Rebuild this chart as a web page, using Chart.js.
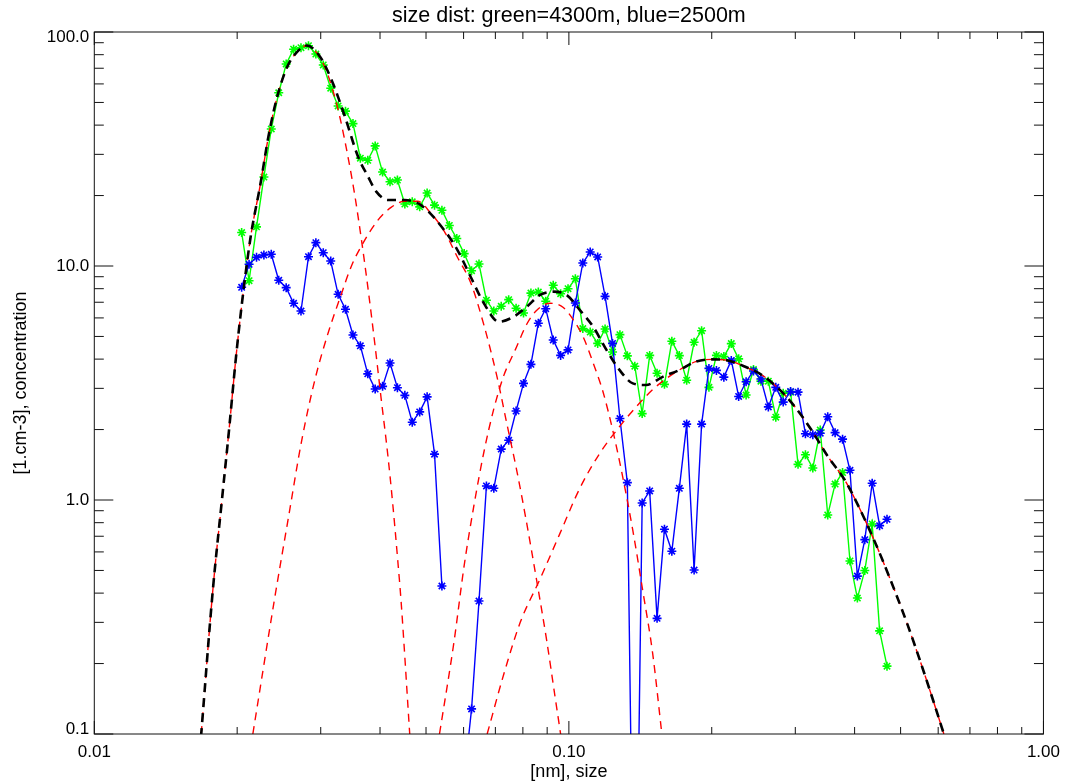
<!DOCTYPE html>
<html><head><meta charset="utf-8">
<script src="https://cdn.jsdelivr.net/npm/chart.js@4"></script>
<style>html,body{margin:0;padding:0;background:#fff}#wrap{width:1068px;height:783px;position:relative}</style>
</head><body><div id="wrap"><canvas id="c"></canvas></div>
<script>
// size grid [nm]
const sizes = [0.02044,0.02119,0.02197,0.02277,0.02360,0.02447,0.02537,0.02630,0.02726,0.02827,
0.02930,0.03037,0.03149,0.03264,0.03383,0.03508,0.03636,0.03769,0.03907,0.04050,
0.04199,0.04352,0.04512,0.04677,0.04849,0.05027,0.05211,0.05401,0.05599,0.05805,
0.06017,0.06237,0.06466,0.06703,0.06948,0.07202,0.07467,0.07740,0.08024,0.08318,
0.08622,0.08938,0.09268,0.09607,0.09959,0.1032,0.1070,0.1109,0.1150,0.1192,
0.1236,0.1281,0.1328,0.1377,0.1427,0.1480,0.1534,0.1590,0.1648,0.1709,
0.1771,0.1836,0.1904,0.1973,0.2046,0.2121,0.2199,0.2279,0.2363,0.2449,
0.2539,0.2632,0.2729,0.2829,0.2932,0.3040,0.3151,0.3266,0.3386,0.3511,
0.3639,0.3773,0.3911,0.4054,0.4203,0.4356,0.4516,0.4681];
// green = 4300 m
const green4300 = [13.9,8.65,14.7,24.0,38.5,55.0,73.0,84.4,85.7,87.4,
80.5,72.3,57.5,48.3,45.9,40.6,28.9,28.3,32.6,25.2,
22.9,23.3,18.4,18.8,17.9,20.5,18.2,17.3,14.9,13.1,
11.3,9.55,10.2,7.14,6.42,6.73,7.18,6.60,6.30,7.66,
7.74,7.07,8.27,7.61,8.00,8.82,5.40,5.22,4.67,5.38,
4.29,5.09,4.13,3.73,2.34,4.15,3.48,3.12,4.77,4.14,
3.25,4.72,5.29,3.03,4.15,4.10,4.66,4.01,2.81,3.61,
3.22,3.22,2.26,2.86,2.89,1.42,1.56,1.37,1.99,0.863,
1.17,1.31,0.549,0.381,0.50,0.790,0.276,0.195];
// blue = 2500 m
const blue2500 = [8.11,10.17,10.89,11.14,11.22,8.69,8.08,6.93,6.42,10.96,
12.58,11.40,10.50,7.57,6.53,5.07,4.56,3.46,2.98,3.06,
3.85,3.02,2.80,2.15,2.38,2.76,1.57,0.429,null,null,
0.065,0.128,0.370,1.148,1.122,1.65,1.80,2.40,3.15,3.80,
5.69,6.57,4.83,4.15,4.38,6.95,10.30,11.48,10.93,7.42,
4.67,2.23,1.186,0.005,0.971,1.093,0.312,0.750,0.604,1.122,
2.11,0.502,2.11,3.65,3.58,3.35,3.95,2.77,3.20,3.56,
3.29,2.50,3.03,2.62,2.91,2.89,1.92,1.90,1.93,2.27,
1.94,1.82,1.34,0.473,0.677,1.18,0.777,0.827];
// fitted modes (red dashed)
const mode1X = [0.01680,0.01775,0.01862,0.01923,0.01986,0.02049,0.02135,0.02240,0.02331,0.02426,0.02546,0.02672,0.02804,0.02920,0.03063,0.03189,0.03294,0.03427,0.03540,0.03654,0.03774,0.03898,0.04023,0.04155,0.04257,0.04360,0.04430,0.04620];
const mode1Y = [0.1,0.40,1.05,2.0,3.97,7.05,13.3,22.5,36.3,52.4,70.5,82,87.5,83,70.5,55.5,43,29,20,13,8.0,4.7,2.7,1.55,0.95,0.55,0.37,0.1];
const mode2X = [0.02158,0.02399,0.02567,0.02736,0.02920,0.03112,0.03294,0.03482,0.03714,0.03960,0.04221,0.04504,0.04802,0.05120,0.05460,0.05824,0.06208,0.06620,0.07059,0.07408,0.07775,0.08155,0.08558,0.08982,0.09348,0.09607];
const mode2Y = [0.1,0.38,0.85,1.8,3.3,5.2,7.3,10.0,12.9,15.7,17.8,18.9,18.9,16.8,14.1,10.9,8.5,5.6,3.35,2.1,1.32,0.79,0.45,0.25,0.145,0.1];
const mode3X = [0.05338,0.05731,0.06013,0.06310,0.06620,0.06947,0.07291,0.07709,0.08155,0.08558,0.09127,0.09734,0.1021,0.1072,0.1125,0.1180,0.1239,0.1300,0.1364,0.1431,0.1502,0.1570];
const mode3Y = [0.1,0.25,0.52,0.95,1.6,2.45,3.4,4.38,5.65,6.47,6.93,6.65,5.9,4.97,3.85,2.9,1.96,1.24,0.74,0.41,0.22,0.1];
const mode4X = [0.06727,0.07291,0.07898,0.08697,0.09577,0.1054,0.1161,0.1279,0.1408,0.1526,0.1707,0.1850,0.2004,0.2172,0.2353,0.2551,0.2763,0.2995,0.3245,0.3516,0.3811,0.3997,0.4402,0.4772,0.5169,0.5512,0.5877,0.6168];
const mode4Y = [0.1,0.18,0.30,0.46,0.72,1.12,1.58,2.06,2.59,3.05,3.59,3.90,3.99,3.94,3.71,3.42,3.00,2.50,1.99,1.53,1.22,1.02,0.67,0.45,0.294,0.202,0.136,0.1];
// total fit (black dashed)
const fitX = [0.01680,0.01775,0.01862,0.01923,0.01986,0.02049,0.02135,0.02240,0.02331,0.02426,0.02546,0.02672,0.02804,0.02990,0.03162,0.03373,0.03596,0.03774,0.03928,0.04155,0.04504,0.04879,0.05460,0.05824,0.06208,0.06620,0.07117,0.07651,0.08155,0.08697,0.09277,0.09890,0.1054,0.1125,0.1200,0.1279,0.1364,0.1454,0.1576,0.1707,0.1850,0.2004,0.2172,0.2353,0.2551,0.2763,0.2995,0.3245,0.3516,0.3811,0.3997,0.4402,0.4772,0.5169,0.5512,0.5877,0.6168];
const fitY = [0.1,0.40,1.05,2.0,3.97,7.05,13.3,22.5,36.3,52.4,70.5,82,87.5,78.4,62.4,43.5,29.3,24.1,20.8,19.15,19.15,18.2,14.25,11.7,9.0,6.93,5.78,6.07,6.70,7.52,7.77,7.52,6.49,5.50,4.38,3.59,3.15,3.10,3.36,3.59,3.90,3.99,3.94,3.71,3.42,3.00,2.50,1.99,1.53,1.22,1.02,0.67,0.45,0.294,0.202,0.136,0.1];
// ticks
const xMajorTicks = [0.01, 0.1, 1];
const xTickLabels = ['0.01', '0.10', '1.00'];
const xMinorTicks = [0.02,0.03,0.04,0.05,0.06,0.07,0.08,0.09,0.2,0.3,0.4,0.5,0.6,0.7,0.8,0.9];
const yMajorTicks = [0.1, 1, 10, 100];
const yTickLabels = ['0.1', '1.0', '10.0', '100.0'];
const yMinorTicks = [0.2,0.3,0.4,0.5,0.6,0.7,0.8,0.9,2,3,4,5,6,7,8,9,20,30,40,50,60,70,80,90];

const pts = (xs, ys) => xs.map((x, i) => ({x: x, y: ys[i]}));
const FONT = "'Liberation Sans', Arial, Helvetica, sans-serif";
Chart.defaults.font.family = FONT;
Chart.defaults.color = '#000';

const insideTicks = {
  id: 'insideTicks',
  afterDatasetsDraw(chart) {
    const {ctx, chartArea: a, scales} = chart;
    const x = scales.x, y = scales.y;
    ctx.save();
    ctx.strokeStyle = '#111';
    ctx.lineWidth = 1;
    ctx.setLineDash([]);
    ctx.beginPath();
    const vx = (vals, len) => vals.forEach(v => {
      const p = x.getPixelForValue(v);
      ctx.moveTo(p, a.bottom); ctx.lineTo(p, a.bottom - len);
      ctx.moveTo(p, a.top); ctx.lineTo(p, a.top + len);
    });
    const hy = (vals, len) => vals.forEach(v => {
      const p = y.getPixelForValue(v);
      ctx.moveTo(a.left, p); ctx.lineTo(a.left + len, p);
      ctx.moveTo(a.right, p); ctx.lineTo(a.right - len, p);
    });
    vx(xMajorTicks, 13); vx(xMinorTicks, 7);
    hy(yMajorTicks, 19); hy(yMinorTicks, 9.5);
    ctx.stroke();
    ctx.strokeRect(a.left, a.top, a.right - a.left, a.bottom - a.top);
    ctx.restore();
  }
};

const redDs = (xs, ys) => ({
  data: pts(xs, ys), borderColor: '#ff0000', borderWidth: 1.4, borderDash: [8, 6],
  pointRadius: 0, cubicInterpolationMode: 'monotone', fill: false
});
const dataDs = (ys, col) => ({
  data: pts(sizes, ys), borderColor: col, backgroundColor: col, borderWidth: 1.4,
  pointStyle: 'star', pointRadius: 4.5, pointBorderWidth: 1.6, pointBorderColor: col,
  spanGaps: false, tension: 0, fill: false
});

new Chart(document.getElementById('c'), {
  type: 'line',
  data: {
    datasets: [
      {data: pts(fitX, fitY), borderColor: '#000', borderWidth: 2.6, borderDash: [9, 6], borderDashOffset: 3,
       pointRadius: 0, cubicInterpolationMode: 'monotone', fill: false},
      redDs(mode1X, mode1Y), redDs(mode2X, mode2Y), redDs(mode3X, mode3Y), redDs(mode4X, mode4Y),
      dataDs(blue2500, '#0000ff'),
      dataDs(green4300, '#00ff00')
    ]
  },
  options: {
    responsive: true, maintainAspectRatio: false, animation: false, events: [],
    layout: {padding: {left: 0, right: 16, top: 0, bottom: 0}},
    plugins: {
      legend: {display: false}, tooltip: {enabled: false},
      title: {display: true, fullSize: false, align: 'center', text: 'size dist: green=4300m, blue=2500m',
              font: {size: 21.5, weight: 'normal', family: FONT, lineHeight: 1.1}, color: '#000',
              padding: {top: 4, bottom: 4.35}}
    },
    scales: {
      x: {
        type: 'logarithmic', min: 0.01, max: 1,
        grid: {display: false, drawTicks: false, tickLength: 0}, border: {display: false},
        afterBuildTicks: s => { s.ticks = xMajorTicks.map(v => ({value: v, major: true})); },
        afterFit: s => { s.height = 49; },
        ticks: {autoSkip: false, maxRotation: 0, padding: 8, font: {size: 17},
                callback: (v, i) => xTickLabels[i]},
        title: {display: true, text: '[nm], size', font: {size: 18}, padding: {top: 0, bottom: 0}}
      },
      y: {
        type: 'logarithmic', min: 0.1, max: 100,
        grid: {display: false, drawTicks: false, tickLength: 0}, border: {display: false},
        afterBuildTicks: s => { s.ticks = yMajorTicks.map(v => ({value: v, major: true})); },
        afterFit: s => { s.width = 94.3; },
        ticks: {autoSkip: false, padding: 5,
                font: c => ({size: 17, lineHeight: (c.index === 0 || c.index === yMajorTicks.length - 1) ? '10px' : 1.2}),
                callback: (v, i) => i === 0 ? [yTickLabels[i], ''] : (i === yMajorTicks.length - 1 ? ['', yTickLabels[i]] : yTickLabels[i])},
        title: {display: true, text: '[1.cm-3], concentration', font: {size: 18}, padding: {top: 10, bottom: 0}}
      }
    }
  },
  plugins: [insideTicks]
});
</script>
</body></html>
